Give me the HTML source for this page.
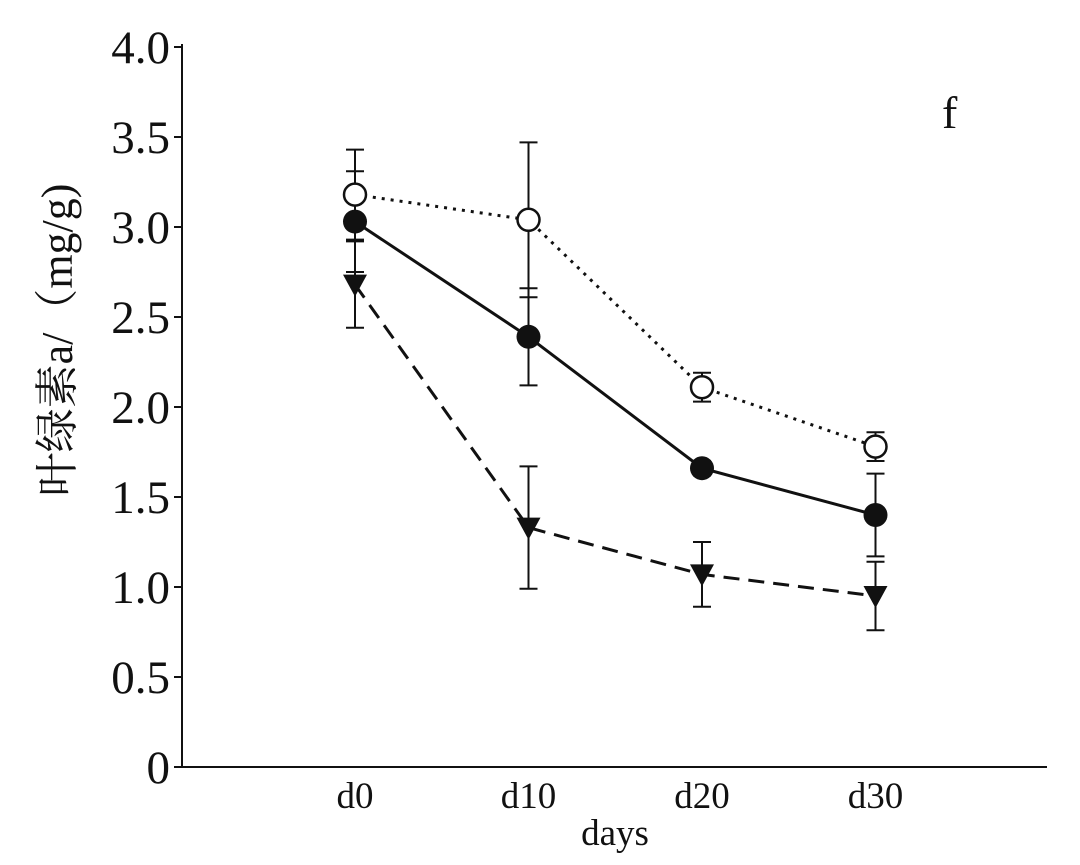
<!DOCTYPE html>
<html><head><meta charset="utf-8"><style>
body{margin:0;background:#fff;}
svg{display:block;}
text{font-family:"Liberation Serif","Noto Serif CJK SC",serif;fill:#111;}
</style></head><body>
<svg id="c" width="1080" height="865"></svg>
<script>
const categories=["d0","d10","d20","d30"];
const openVals=[3.18,3.04,2.11,1.78];
const openErr=[0.25,0.43,0.08,0.08];
const fillVals=[3.03,2.39,1.66,1.40];
const fillErr=[0.28,0.27,0.04,0.23];
const triVals=[2.68,1.33,1.07,0.95];
const triErr=[0.24,0.34,0.18,0.19];
const yTicks=["0","0.5","1.0","1.5","2.0","2.5","3.0","3.5","4.0"];
const NS="http://www.w3.org/2000/svg";
const svg=document.getElementById('c');
const x0=182,y0=767,ppu=180;
const xs=i=>355+i*173.5;
const ys=v=>y0-v*ppu;
function mk(tag,attrs,parent){const e=document.createElementNS(NS,tag);for(const k in attrs)e.setAttribute(k,attrs[k]);(parent||svg).appendChild(e);return e;}
let e;
e=mk('line',{x1:x0,y1:44,x2:x0,y2:y0,stroke:'#111','stroke-width':2});


e=mk('line',{x1:x0,y1:y0,x2:1047,y2:y0,stroke:'#111','stroke-width':2});


yTicks.forEach((t,i)=>{const v=parseFloat(t);const y=ys(v);
mk('line',{x1:x0-8,y1:y,x2:x0,y2:y,stroke:'#111','stroke-width':2});
e=mk('text',{x:x0-12,y:y+16,'text-anchor':'end','font-size':47});e.textContent=t;

});
categories.forEach((c,i)=>{e=mk('text',{x:xs(i),y:808,'text-anchor':'middle','font-size':37});e.textContent=c;

});
e=mk('text',{x:615,y:845,'text-anchor':'middle','font-size':37});e.textContent='days';


e=mk('text',{x:0,y:0,'text-anchor':'middle','font-size':44,transform:'translate(72,340) rotate(-90)'});e.textContent='叶绿素a/（mg/g)';


e=mk('text',{x:942,y:128,'font-size':46});e.textContent='f';


function series(vals,errs,dash,marker,name){
 const g=mk('g',{});
 
 
 vals.forEach((v,i)=>{const x=xs(i);const t=ys(v+errs[i]),b=ys(v-errs[i]);
  mk('line',{x1:x,y1:t,x2:x,y2:b,stroke:'#111','stroke-width':2},g);
  mk('line',{x1:x-9,y1:t,x2:x+9,y2:t,stroke:'#111','stroke-width':2},g);
  mk('line',{x1:x-9,y1:b,x2:x+9,y2:b,stroke:'#111','stroke-width':2},g);});
 mk('polyline',{points:vals.map((v,i)=>xs(i)+','+ys(v)).join(' '),fill:'none',stroke:'#111','stroke-width':3,'stroke-dasharray':dash},g);
 vals.forEach((v,i)=>{const x=xs(i),y=ys(v);let m;
  if(marker==='open')m=mk('circle',{cx:x,cy:y,r:11,fill:'#fff',stroke:'#111','stroke-width':2.5},g);
  else if(marker==='fill')m=mk('circle',{cx:x,cy:y,r:12,fill:'#111'},g);
  else m=mk('polygon',{points:`${x-12},${y-10} ${x+12},${y-10} ${x},${y+12}`,fill:'#111'},g);
  
  });
}
series(triVals,triErr,'16 9','tri','series-triangle');
series(fillVals,fillErr,'none','fill','series-filled-circle');
series(openVals,openErr,'3 6','open','series-open-circle');
</script>
</body></html>
